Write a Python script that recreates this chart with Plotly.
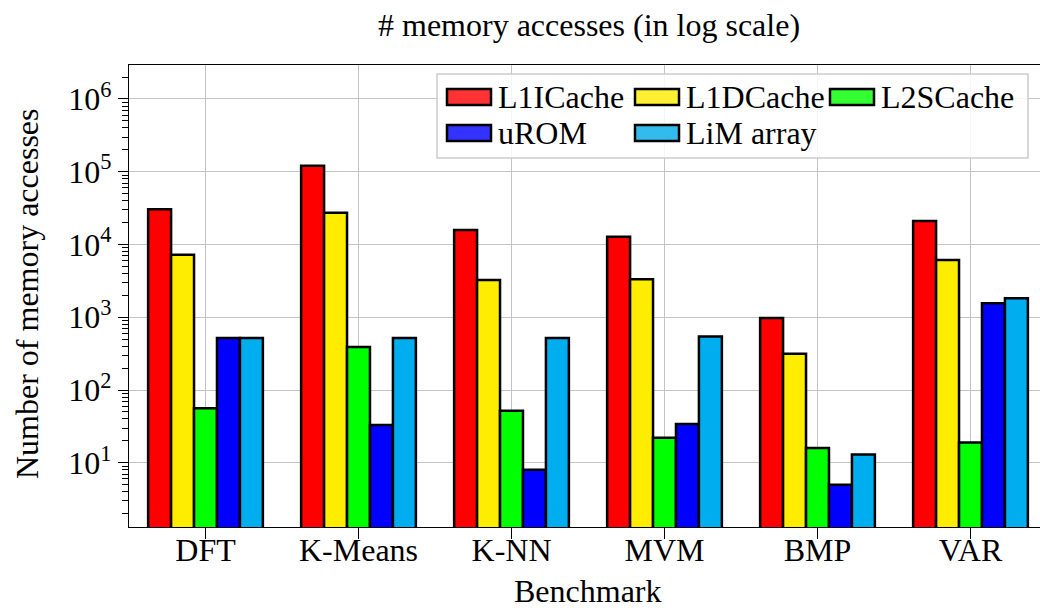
import plotly.graph_objects as go

# ---------------- data ----------------
benchmarks = ["DFT", "K-Means", "K-NN", "MVM", "BMP", "VAR"]
series_names = ["L1ICache", "L1DCache", "L2SCache", "uROM", "LiM array"]
l1i_cache = [30500, 121000, 15800, 12800, 980, 21000]
l1d_cache = [7200, 27400, 3250, 3330, 315, 6100]
l2s_cache = [56, 390, 52, 22, 16, 19]
urom = [520, 33, 8, 34, 5, 1560]
lim_array = [520, 520, 520, 545, 13, 1830]
series_values = [l1i_cache, l1d_cache, l2s_cache, urom, lim_array]
series_colors = ["#ff0000", "#ffed00", "#00ff00", "#0000ff", "#00aeef"]
legend_colors = ["#ff3333", "#fff033", "#33ff33", "#3333ff", "#33bbee"]
major_exponents = [1, 2, 3, 4, 5, 6]
y_tick_labels = ["10<sup>%d</sup>" % e for e in major_exponents]
title_text = "# memory accesses (in log scale)"
x_title = "Benchmark"
y_title = "Number of memory accesses"

FONT = "Times New Roman, Liberation Serif, Times, DejaVu Serif, serif"
FS = 32

W, H = 1040, 610
L, R, T, B = 129, 1040, 65, 527


def px_x(p):
    return (p - L) / (R - L)


def px_y(p):
    return (B - p) / (B - T)


fig = go.Figure()
for name, vals, col in zip(series_names, series_values, series_colors):
    fig.add_trace(go.Bar(
        x=benchmarks, y=vals, name=name,
        marker=dict(color=col, line=dict(color="black", width=2.5)),
    ))

minor_vals = [k * 10 ** n for n in range(0, 7) for k in range(2, 10)]

fig.update_layout(
    width=W, height=H,
    margin=dict(l=L, r=W - R, t=T, b=H - B, pad=0),
    paper_bgcolor="white", plot_bgcolor="white",
    barmode="group", bargap=0.25, bargroupgap=0,
    showlegend=False,
    font=dict(family=FONT, size=FS, color="black"),
    xaxis=dict(
        range=[-0.5, -0.5 + (R - L) / 153.0],
        showline=True, linecolor="black", linewidth=1.3, mirror=True,
        showgrid=True, gridcolor="#c4c4c4", gridwidth=1,
        ticks="outside", ticklen=11, tickcolor="black", tickwidth=1,
        tickfont=dict(family=FONT, size=FS),
        ticklabelstandoff=-17,
        zeroline=False,
    ),
    yaxis=dict(
        type="log", range=[0.117, 6.467],
        tickmode="array",
        tickvals=[10 ** e for e in major_exponents],
        ticktext=y_tick_labels,
        showline=True, linecolor="black", linewidth=1.3,
        showgrid=True, gridcolor="#c4c4c4", gridwidth=1,
        ticks="outside", ticklen=10, tickcolor="black", tickwidth=1,
        tickfont=dict(family=FONT, size=FS),
        minor=dict(tickmode="array", tickvals=minor_vals, ticks="outside",
                   ticklen=6, tickcolor="black", tickwidth=1, showgrid=False),
        zeroline=False,
    ),
)

annotations = [
    dict(text=title_text, xref="paper", yref="paper", x=px_x(589), y=px_y(25),
         xanchor="center", yanchor="middle", showarrow=False,
         font=dict(family=FONT, size=FS)),
    dict(text=x_title, xref="paper", yref="paper", x=px_x(588), y=px_y(610),
         xanchor="center", yanchor="bottom", showarrow=False, borderpad=0,
         font=dict(family=FONT, size=FS)),
    dict(text=y_title, xref="paper", yref="paper", x=px_x(27), y=px_y(294),
         xanchor="center", yanchor="middle", showarrow=False, textangle=-90,
         font=dict(family=FONT, size=FS)),
]

shapes = [
    dict(type="rect", xref="paper", yref="paper", layer="above",
         x0=px_x(437), x1=px_x(1028), y0=px_y(158), y1=px_y(74),
         fillcolor="rgba(255,255,255,0.85)", line=dict(color="#cccccc", width=1.5)),
]

col_x = [447, 635, 830]
row_y = [97, 133]
for i, (name, col) in enumerate(zip(series_names, legend_colors)):
    cx = col_x[i % 3]
    cy = row_y[i // 3]
    shapes.append(dict(type="rect", xref="paper", yref="paper", layer="above",
                       x0=px_x(cx), x1=px_x(cx + 44), y0=px_y(cy + 8), y1=px_y(cy - 8),
                       fillcolor=col, line=dict(color="black", width=2.5)))
    annotations.append(dict(text=name, xref="paper", yref="paper",
                            x=px_x(cx + 49), y=px_y(cy), xanchor="left", yanchor="middle",
                            showarrow=False, font=dict(family=FONT, size=FS)))

fig.update_layout(annotations=annotations, shapes=shapes)

fig.write_html("out.html")
